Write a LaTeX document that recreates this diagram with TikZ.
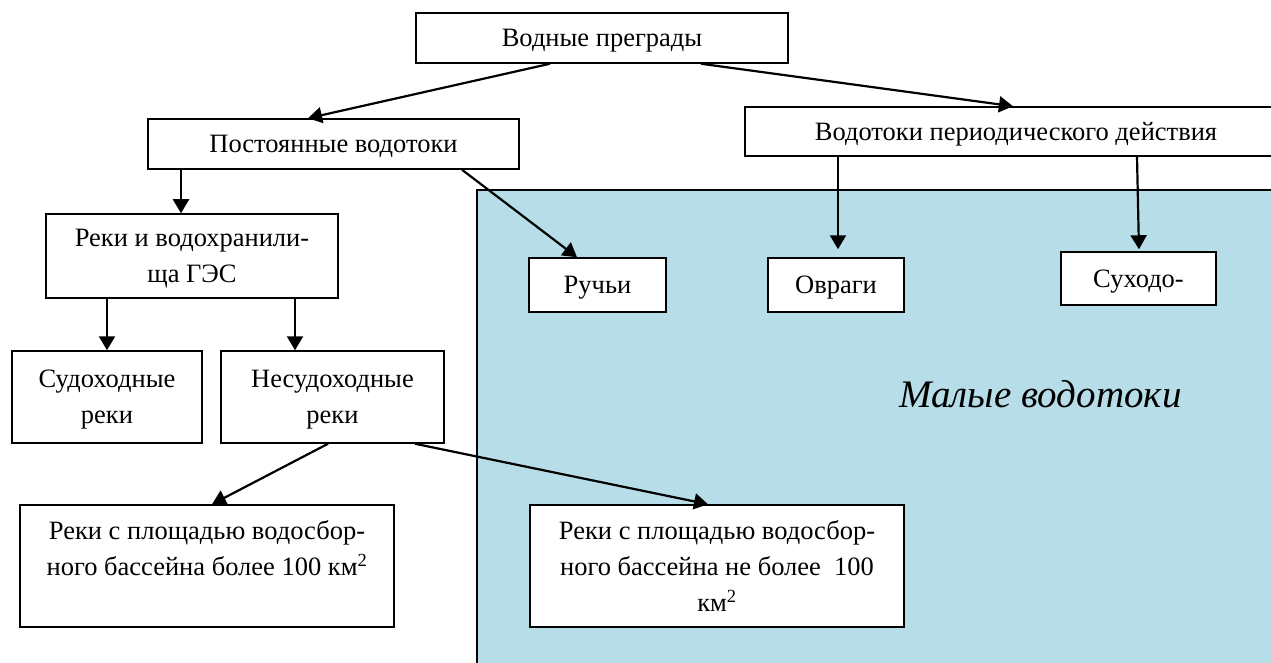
\documentclass[tikz,border=0pt]{standalone}
\usepackage{fontspec}
\setmainfont{Liberation Serif}
\usetikzlibrary{arrows.meta}
\definecolor{smallwater}{RGB}{183,221,232}

\begin{document}
\begin{tikzpicture}[x=1pt,y=-1pt,>={Triangle[length=14pt,width=16pt]},
    every node/.style={font=\fontsize{26.5}{36}\selectfont},
    box/.style={draw,line width=1.5pt,fill=white,align=center,inner sep=0pt,text depth=0pt},
    link/.style={->,line width=2.2pt}]
  \useasboundingbox (0,0) rectangle (1271,663);
  \clip (0,0) rectangle (1271,663);
  \filldraw[fill=smallwater,line width=2pt] (477,190) rectangle (1300,700);
  \node[font=\fontsize{39}{44}\selectfont\itshape,anchor=base east] (mal) at (1185,407) {Малые водотоки};

  \node[box,minimum width=372pt,minimum height=50pt] (vp) at (602,38) {Водные преграды};
  \node[box,minimum width=371pt,minimum height=50pt] (post) at (333.5,144) {Постоянные водотоки};
  \node[box,minimum width=542pt,minimum height=49pt] (per) at (1016,131.5) {Водотоки периодического действия};
  \node[box,minimum width=292pt,minimum height=84pt] (rek) at (192,256) {Реки и водохранили-\\ща ГЭС};
  \node[box,minimum width=190pt,minimum height=92pt] (sud) at (107,397) {Судоходные\\реки};
  \node[box,minimum width=223pt,minimum height=92pt] (nesud) at (332.5,397) {Несудоходные\\реки};
  \node[box,minimum width=374pt,minimum height=122pt] (big) at (207,566)
    {Реки с площадью водосбор-\\ного бассейна более 100 км\textsuperscript{2}\\ \mbox{}};
  \node[box,minimum width=374pt,minimum height=122pt] (small) at (717,566)
    {Реки с площадью водосбор-\\ного бассейна не более\ \ 100\\км\textsuperscript{2}};
  \node[box,minimum width=137pt,minimum height=54pt] (ruch) at (597.5,285) {Ручьи};
  \node[box,minimum width=136pt,minimum height=54pt] (ovr) at (836,285) {Овраги};
  \node[box,minimum width=155pt,minimum height=53pt] (suh) at (1138.5,278.5) {Суходо-};

  \draw[link] ([xshift=-52pt]vp.south) -- ([xshift=-25.5pt]post.north);
  \draw[link] ([xshift=99pt]vp.south) -- ([xshift=-3pt]per.north);
  \draw[link] ([xshift=-152.5pt]post.south) -- ([xshift=-11pt]rek.north);
  \draw[link] ([xshift=128.5pt]post.south) -- ([xshift=-20.5pt]ruch.north);
  \draw[link] ([xshift=-85pt]rek.south) -- (sud.north);
  \draw[link] ([xshift=103pt]rek.south) -- ([xshift=-37.5pt]nesud.north);
  \draw[link] ([xshift=-4.5pt]nesud.south) -- ([xshift=5pt]big.north);
  \draw[link] ([xshift=82.5pt]nesud.south) -- ([xshift=-9pt]small.north);
  \draw[link,shorten >=8pt] ([xshift=-178pt]per.south) -- ([xshift=2pt]ovr.north);
  \draw[link,shorten >=2pt] ([xshift=121pt]per.south) -- ([xshift=0.5pt]suh.north);
\end{tikzpicture}
\end{document}
